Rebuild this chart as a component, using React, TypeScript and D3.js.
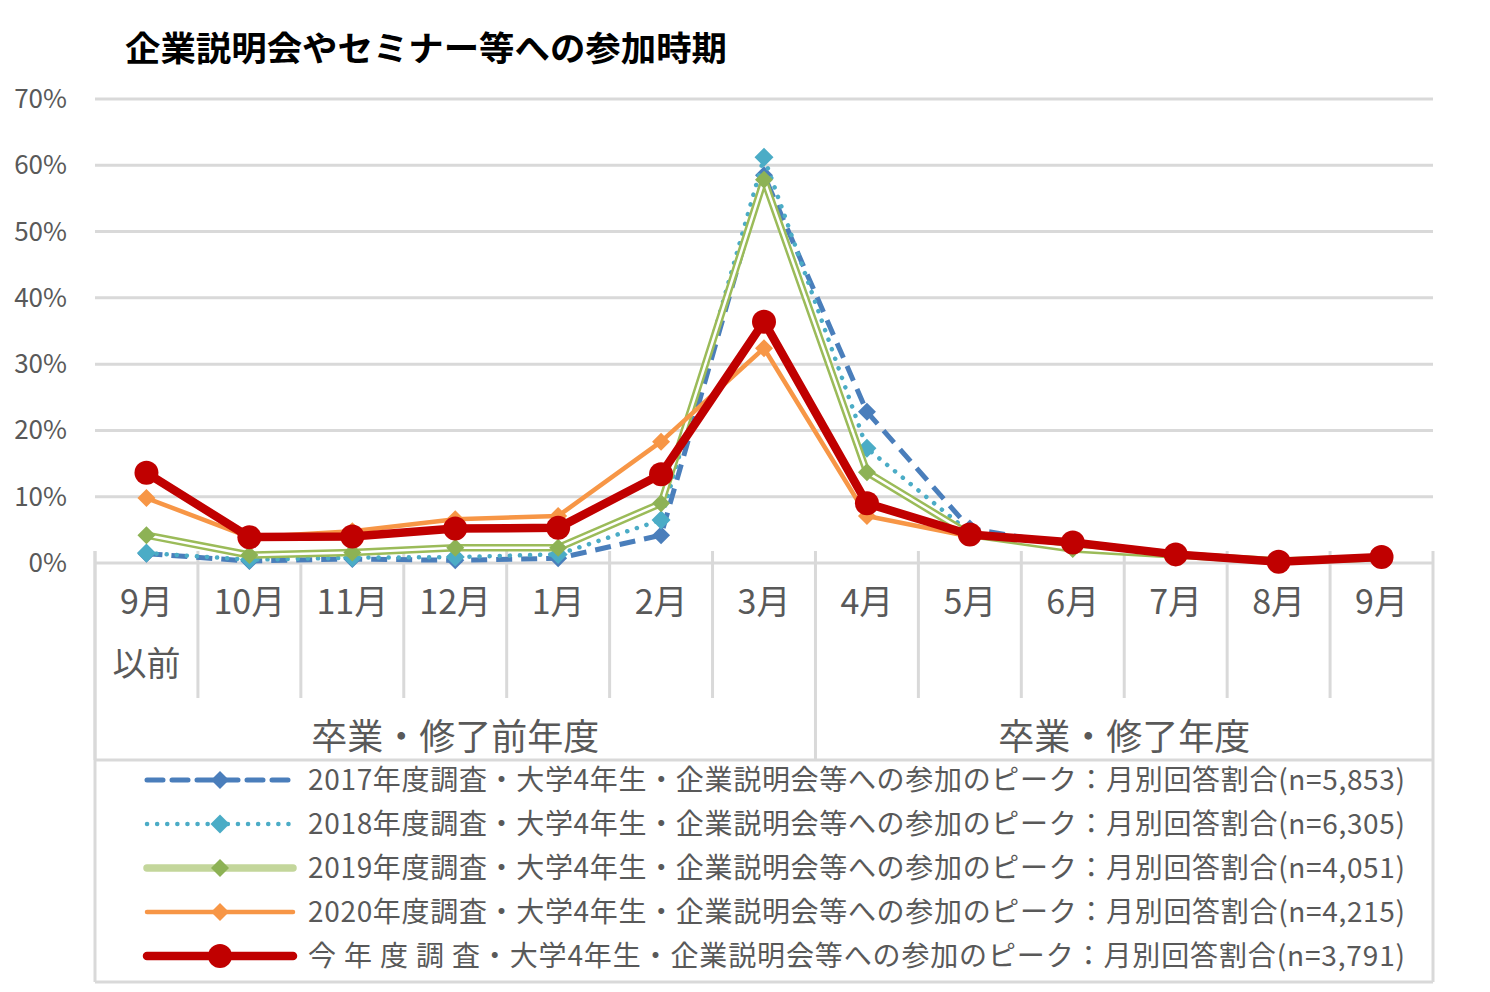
import React from "react";
import * as d3 from "d3";

const categories = ["9月以前", "10月", "11月", "12月", "1月", "2月", "3月", "4月", "5月", "6月", "7月", "8月", "9月"];
const monthLabels = ["9月", "10月", "11月", "12月", "1月", "2月", "3月", "4月", "5月", "6月", "7月", "8月", "9月"];
const yTicks = [0, 10, 20, 30, 40, 50, 60, 70];

const groupLabels = ["卒業・修了前年度", "卒業・修了年度"];
const groupSpans = [[0, 7], [7, 13]];

const s2017 = [1.4, 0.3, 0.6, 0.4, 0.7, 4.2, 58.5, 22.8, 5.2, 2.6, 1.3, 0.3, 0.8];
const s2018 = [1.5, 0.5, 0.8, 0.9, 1.3, 6.5, 61.2, 17.3, 4.6, 2.3, 1.2, 0.3, 0.8];
const s2019 = [4.2, 1.2, 1.6, 2.3, 2.3, 9.0, 57.8, 13.7, 4.3, 2.1, 1.2, 0.3, 0.8];
const s2020 = [9.8, 3.9, 4.8, 6.6, 7.1, 18.3, 32.4, 7.1, 4.0, 3.3, 1.5, 0.4, 0.9];
const sToday = [13.6, 3.9, 4.0, 5.2, 5.3, 13.4, 36.4, 9.0, 4.3, 3.1, 1.3, 0.2, 0.9];

const legendLabels = [
  "2017年度調査・大学4年生・企業説明会等への参加のピーク：月別回答割合(n=5,853)",
  "2018年度調査・大学4年生・企業説明会等への参加のピーク：月別回答割合(n=6,305)",
  "2019年度調査・大学4年生・企業説明会等への参加のピーク：月別回答割合(n=4,051)",
  "2020年度調査・大学4年生・企業説明会等への参加のピーク：月別回答割合(n=4,215)",
  "今 年 度 調 査・大学4年生・企業説明会等への参加のピーク：月別回答割合(n=3,791)",
];

const FONT = "'Noto Sans CJK JP', 'Noto Sans', sans-serif";
const GRID = "#d9d9d9";
const TEXT = "#595959";

type Style = {
  color: string;
  width: number;
  dash?: string;
  cap?: "round" | "butt";
  inner?: string;
  marker: "diamond" | "circle";
  markerColor: string;
  size: number;
};

const styles: Style[] = [
  { color: "#4a7ebb", width: 5, dash: "16 9", marker: "diamond", markerColor: "#4a7ebb", size: 9 },
  { color: "#4bacc6", width: 4.5, dash: "0.1 10", cap: "round", marker: "diamond", markerColor: "#4bacc6", size: 9.5 },
  { color: "#9bbb59", width: 7.5, inner: "#ffffff", marker: "diamond", markerColor: "#8db255", size: 9 },
  { color: "#f79646", width: 4.5, marker: "diamond", markerColor: "#f79646", size: 9 },
  { color: "#c00000", width: 8.5, marker: "circle", markerColor: "#c00000", size: 12 },
];

function Marker({ x, y, st }: { x: number; y: number; st: Style }) {
  if (st.marker === "circle") return <circle cx={x} cy={y} r={st.size} fill={st.markerColor} />;
  const s = st.size;
  return <path d={`M${x},${y - s}L${x + s},${y}L${x},${y + s}L${x - s},${y}Z`} fill={st.markerColor} />;
}

export default function App() {
  const W = 1490;
  const H = 992;
  const left = 95;
  const right = 1433;
  const x = d3.scaleBand<string>().domain(categories).range([left, right]);
  const y = d3.scaleLinear().domain([0, 70]).range([563, 99]);
  const series = [s2017, s2018, s2019, s2020, sToday];
  const cx = (i: number) => (x(categories[i]) ?? 0) + x.bandwidth() / 2;
  const line = d3
    .line<number>()
    .x((_, i) => cx(i))
    .y((d) => y(d));

  const divTop = 551;
  const monthBottom = 698;
  const tableBottom = 760;
  const legendBottom = 982;
  const legendRows = [780, 824, 868, 912, 956];

  return (
    <svg width={W} height={H} style={{ position: "absolute", left: 0, top: 0, background: "#fff" }} fontFamily={FONT}>
      <rect width={W} height={H} fill="#fff" />
      <text x={125} y={61} fontSize={34} fontWeight="bold" fill="#000" textLength={602} lengthAdjust="spacingAndGlyphs">
        企業説明会やセミナー等への参加時期
      </text>

      {/* grid + y labels */}
      {yTicks.map((t) => (
        <g key={t}>
          <line x1={left} x2={right} y1={y(t)} y2={y(t)} stroke={GRID} strokeWidth={3} />
          <text x={67} y={y(t) + 9} textAnchor="end" fontSize={26} fill={TEXT}>
            {t}%
          </text>
        </g>
      ))}

      {/* category table */}
      {categories.map((c, i) => {
        const x0 = x(c) ?? 0;
        return (
          <line
            key={c}
            x1={x0}
            x2={x0}
            y1={divTop}
            y2={i === 0 || i === 7 ? tableBottom : monthBottom}
            stroke={GRID}
            strokeWidth={3}
          />
        );
      })}
      <line x1={right} x2={right} y1={divTop} y2={legendBottom} stroke={GRID} strokeWidth={3} />
      <line x1={left} x2={left} y1={divTop} y2={legendBottom} stroke={GRID} strokeWidth={3} />
      <line x1={left} x2={right} y1={tableBottom} y2={tableBottom} stroke={GRID} strokeWidth={3} />
      <line x1={left} x2={right} y1={legendBottom} y2={legendBottom} stroke={GRID} strokeWidth={3} />

      {categories.map((c, i) => (
        <text key={c} x={cx(i)} y={614} textAnchor="middle" fontSize={34} fill={TEXT}>
          {monthLabels[i]}
        </text>
      ))}
      <text x={cx(0)} y={676} textAnchor="middle" fontSize={34} fill={TEXT}>
        以前
      </text>
      {groupLabels.map((g, i) => {
        const [a, b] = groupSpans[i];
        const x0 = x(categories[a]) ?? 0;
        const x1 = b < categories.length ? x(categories[b]) ?? 0 : right;
        return (
          <text key={g} x={(x0 + x1) / 2} y={750} textAnchor="middle" fontSize={36} fill={TEXT}>
            {g}
          </text>
        );
      })}

      {/* series */}
      {series.map((s, k) => {
        const st = styles[k];
        return (
          <g key={k}>
            <path
              d={line(s) ?? ""}
              fill="none"
              stroke={st.color}
              strokeWidth={st.width}
              strokeDasharray={st.dash}
              strokeLinecap={st.cap ?? "butt"}
              strokeLinejoin="round"
            />
            {st.inner && <path d={line(s) ?? ""} fill="none" stroke={st.inner} strokeWidth={2.5} strokeLinejoin="round" />}
            {s.map((v, i) => (
              <Marker key={i} x={cx(i)} y={y(v)} st={st} />
            ))}
          </g>
        );
      })}

      {/* legend */}
      {legendLabels.map((lab, k) => {
        const st = styles[k];
        const ly = legendRows[k];
        return (
          <g key={lab}>
            <line
              x1={147}
              x2={293}
              y1={ly}
              y2={ly}
              stroke={k === 2 ? "#c3d69b" : st.color}
              strokeWidth={st.width}
              strokeDasharray={st.dash}
              strokeLinecap={st.cap ?? "round"}
            />
            <Marker x={220} y={ly} st={st} />
            <text x={308} y={ly + 10} fontSize={28} fill={TEXT} textLength={1097} lengthAdjust="spacing">
              {lab}
            </text>
          </g>
        );
      })}
    </svg>
  );
}
